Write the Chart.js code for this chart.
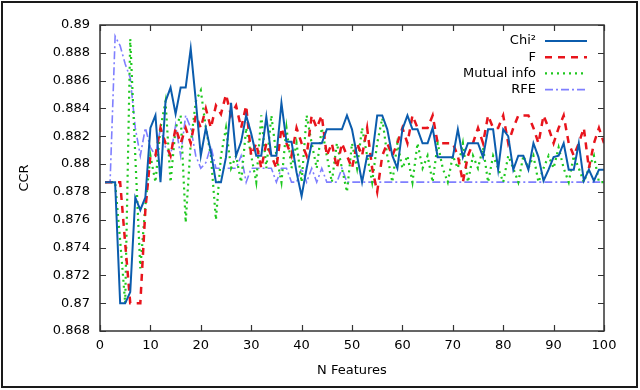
<!DOCTYPE html>
<html>
<head>
<meta charset="utf-8">
<script src="https://cdn.jsdelivr.net/npm/chart.js@4/dist/chart.umd.min.js"></script>
<style>
  html, body { margin: 0; padding: 0; background: #fff; }
</style>
</head>
<body>
<canvas id="ccrChart" width="640" height="390"></canvas>
<script>
// N features on the x axis (1..100)
const nFeatures = Array.from({ length: 100 }, (_, i) => i + 1);

const chi2 = [
  0.8787, 0.8787, 0.8787, 0.8700, 0.8700, 0.8708, 0.8776, 0.8767, 0.8776, 0.8826,
  0.8835, 0.8787, 0.8845, 0.8855, 0.8836, 0.8855, 0.8855, 0.8883, 0.8846, 0.8806,
  0.8826, 0.8809, 0.8787, 0.8787, 0.8805, 0.8844, 0.8806, 0.8816, 0.8835, 0.8822,
  0.8806, 0.8806, 0.8834, 0.8806, 0.8806, 0.8844, 0.8816, 0.8816, 0.8794, 0.8777,
  0.8797, 0.8815, 0.8815, 0.8815, 0.8825, 0.8825, 0.8825, 0.8825, 0.8835, 0.8825,
  0.8806, 0.8787, 0.8806, 0.8806, 0.8835, 0.8835, 0.8825, 0.8806, 0.8797, 0.8825,
  0.8835, 0.8825, 0.8825, 0.8815, 0.8815, 0.8826, 0.8805, 0.8805, 0.8805, 0.8805,
  0.8825, 0.8805, 0.8815, 0.8815, 0.8815, 0.8805, 0.8825, 0.8825, 0.8796, 0.8825,
  0.8820, 0.8796, 0.8806, 0.8806, 0.8796, 0.8815, 0.8805, 0.8788, 0.8796, 0.8805,
  0.8806, 0.8815, 0.8796, 0.8796, 0.8815, 0.8788, 0.8796, 0.8788, 0.8796, 0.8796
];

const fScore = [
  0.8787, 0.8787, 0.8787, 0.8787, 0.8743, 0.8700, 0.8700, 0.8700, 0.8767, 0.8806,
  0.8806, 0.8826, 0.8815, 0.8806, 0.8826, 0.8815, 0.8826, 0.8815, 0.8835, 0.8826,
  0.8840, 0.8826, 0.8842, 0.8836, 0.8850, 0.8835, 0.8842, 0.8826, 0.8842, 0.8806,
  0.8815, 0.8797, 0.8815, 0.8806, 0.8797, 0.8826, 0.8815, 0.8806, 0.8826, 0.8815,
  0.8806, 0.8835, 0.8826, 0.8835, 0.8806, 0.8815, 0.8797, 0.8815, 0.8806, 0.8797,
  0.8815, 0.8806, 0.8826, 0.8797, 0.8780, 0.8806, 0.8815, 0.8806, 0.8815, 0.8826,
  0.8815, 0.8835, 0.8826, 0.8826, 0.8826, 0.8835, 0.8815, 0.8815, 0.8815, 0.8815,
  0.8806, 0.8787, 0.8806, 0.8815, 0.8826, 0.8815, 0.8835, 0.8826, 0.8826, 0.8835,
  0.8815, 0.8826, 0.8835, 0.8835, 0.8835, 0.8826, 0.8815, 0.8835, 0.8826, 0.8815,
  0.8826, 0.8835, 0.8815, 0.8806, 0.8815, 0.8826, 0.8797, 0.8815, 0.8826, 0.8815
];

const mutualInfo = [
  0.8787, 0.8787, 0.8787, 0.8745, 0.8700, 0.8890, 0.8806, 0.8725, 0.8770, 0.8806,
  0.8787, 0.8826, 0.8845, 0.8787, 0.8826, 0.8835, 0.8758, 0.8815, 0.8845, 0.8853,
  0.8826, 0.8806, 0.8760, 0.8806, 0.8826, 0.8797, 0.8806, 0.8787, 0.8826, 0.8806,
  0.8787, 0.8835, 0.8797, 0.8835, 0.8806, 0.8787, 0.8826, 0.8797, 0.8815, 0.8787,
  0.8835, 0.8815, 0.8797, 0.8826, 0.8806, 0.8787, 0.8815, 0.8797, 0.8780, 0.8815,
  0.8797, 0.8826, 0.8806, 0.8787, 0.8815, 0.8833, 0.8806, 0.8787, 0.8815, 0.8797,
  0.8806, 0.8787, 0.8815, 0.8797, 0.8806, 0.8787, 0.8815, 0.8797, 0.8787, 0.8806,
  0.8797, 0.8815, 0.8787, 0.8806, 0.8797, 0.8812, 0.8787, 0.8806, 0.8797, 0.8787,
  0.8806, 0.8797, 0.8787, 0.8806, 0.8797, 0.8806, 0.8787, 0.8797, 0.8806, 0.8797,
  0.8812, 0.8797, 0.8787, 0.8806, 0.8797, 0.8787, 0.8797, 0.8806, 0.8787, 0.8787
];

const rfe = [
  0.8787, 0.8787, 0.8892, 0.8885, 0.8872, 0.8862, 0.8826, 0.8806, 0.8826, 0.8812,
  0.8806, 0.8826, 0.8812, 0.8806, 0.8828, 0.8806, 0.8835, 0.8826, 0.8806, 0.8797,
  0.8801, 0.8813, 0.8797, 0.8797, 0.8797, 0.8797, 0.8797, 0.8806, 0.8787, 0.8797,
  0.8797, 0.8797, 0.8797, 0.8797, 0.8787, 0.8797, 0.8797, 0.8787, 0.8787, 0.8797,
  0.8787, 0.8797, 0.8787, 0.8797, 0.8787, 0.8787, 0.8787, 0.8797, 0.8787, 0.8787,
  0.8787, 0.8787, 0.8787, 0.8787, 0.8787, 0.8787, 0.8787, 0.8787, 0.8787, 0.8787,
  0.8787, 0.8787, 0.8787, 0.8787, 0.8787, 0.8787, 0.8787, 0.8787, 0.8787, 0.8787,
  0.8787, 0.8787, 0.8787, 0.8787, 0.8787, 0.8787, 0.8787, 0.8787, 0.8787, 0.8787,
  0.8787, 0.8787, 0.8787, 0.8787, 0.8787, 0.8787, 0.8787, 0.8787, 0.8787, 0.8787,
  0.8787, 0.8787, 0.8787, 0.8787, 0.8787, 0.8787, 0.8787, 0.8787, 0.8787, 0.8787
];

const seriesNames = ['Chi²', 'F', 'Mutual info', 'RFE'];

const FONT = { family: 'DejaVu Sans', size: 13 };

// frame, inward ticks, legend and the outer border
const framePlugin = {
    id: 'frame',
    afterDraw(chart) {
        const { ctx, chartArea: a, scales: { x, y } } = chart;
        ctx.save();
        ctx.strokeStyle = '#333';
        ctx.lineWidth = 1.5;
        ctx.strokeRect(a.left, a.top, a.width, a.height);

        ctx.lineWidth = 1.2;
        ctx.beginPath();
        x.ticks.forEach(t => {
            const px = Math.round(x.getPixelForValue(t.value)) + 0.5;
            ctx.moveTo(px, a.bottom); ctx.lineTo(px, a.bottom - 6);
            ctx.moveTo(px, a.top); ctx.lineTo(px, a.top + 6);
        });
        y.ticks.forEach(t => {
            const py = Math.round(y.getPixelForValue(t.value)) + 0.5;
            ctx.moveTo(a.left, py); ctx.lineTo(a.left + 6, py);
            ctx.moveTo(a.right, py); ctx.lineTo(a.right - 6, py);
        });
        ctx.stroke();

        // legend, text right aligned, sample to the right
        ctx.font = '13px "DejaVu Sans"';
        ctx.textAlign = 'right';
        ctx.textBaseline = 'middle';
        chart.data.datasets.forEach((ds, i) => {
            const yy = 41 + i * 16.2;
            ctx.fillStyle = '#000';
            ctx.fillText(ds.label, 536, yy);
            ctx.strokeStyle = ds.borderColor;
            ctx.lineWidth = ds.borderWidth;
            ctx.setLineDash(ds.borderDash || []);
            ctx.beginPath();
            ctx.moveTo(545, yy); ctx.lineTo(587, yy);
            ctx.stroke();
        });
        ctx.setLineDash([]);

        ctx.strokeStyle = '#1a1a1a';
        ctx.lineWidth = 2;
        ctx.strokeRect(2, 2, 635, 385);
        ctx.restore();
    }
};

const ctx = document.getElementById('ccrChart').getContext('2d');

const myChart = new Chart(ctx, {
    type: 'line',
    data: {
        labels: nFeatures,
        datasets: [
            { label: seriesNames[0], data: chi2, borderColor: '#0b5cad', borderWidth: 2, pointRadius: 0 },
            { label: seriesNames[1], data: fScore, borderColor: '#e8141c', borderWidth: 2.5, borderDash: [7, 6], pointRadius: 0 },
            { label: seriesNames[2], data: mutualInfo, borderColor: '#1ec81e', borderWidth: 2.2, borderDash: [2, 4], pointRadius: 0 },
            { label: seriesNames[3], data: rfe, borderColor: '#7f7fff', borderWidth: 1.6, borderDash: [8, 3, 2, 3], pointRadius: 0 }
        ]
    },
    options: {
        responsive: false,
        animation: false,
        devicePixelRatio: 1,
        layout: { padding: { left: 0, top: 25, right: 36, bottom: 0 } },
        plugins: {
            legend: { display: false },
            tooltip: { enabled: false }
        },
        scales: {
            x: {
                type: 'linear',
                min: 0,
                max: 100,
                ticks: { stepSize: 10, padding: 7, color: '#000', font: FONT, maxRotation: 0 },
                grid: { display: false, drawTicks: false },
                border: { display: false },
                title: { display: true, text: 'N Features', color: '#000', font: FONT, padding: { top: 0, bottom: 12 } },
                afterFit: s => { s.height = 59; }
            },
            y: {
                min: 0.868,
                max: 0.89,
                ticks: {
                    stepSize: 0.002,
                    padding: 10,
                    color: '#000',
                    font: FONT,
                    callback: v => String(parseFloat(v.toFixed(3)))
                },
                grid: { display: false, drawTicks: false },
                border: { display: false },
                title: { display: true, text: 'CCR', color: '#000', font: FONT, padding: { top: 17, bottom: 0 } },
                afterFit: s => { s.width = 100; }
            }
        }
    },
    plugins: [framePlugin]
});
</script>
</body>
</html>
